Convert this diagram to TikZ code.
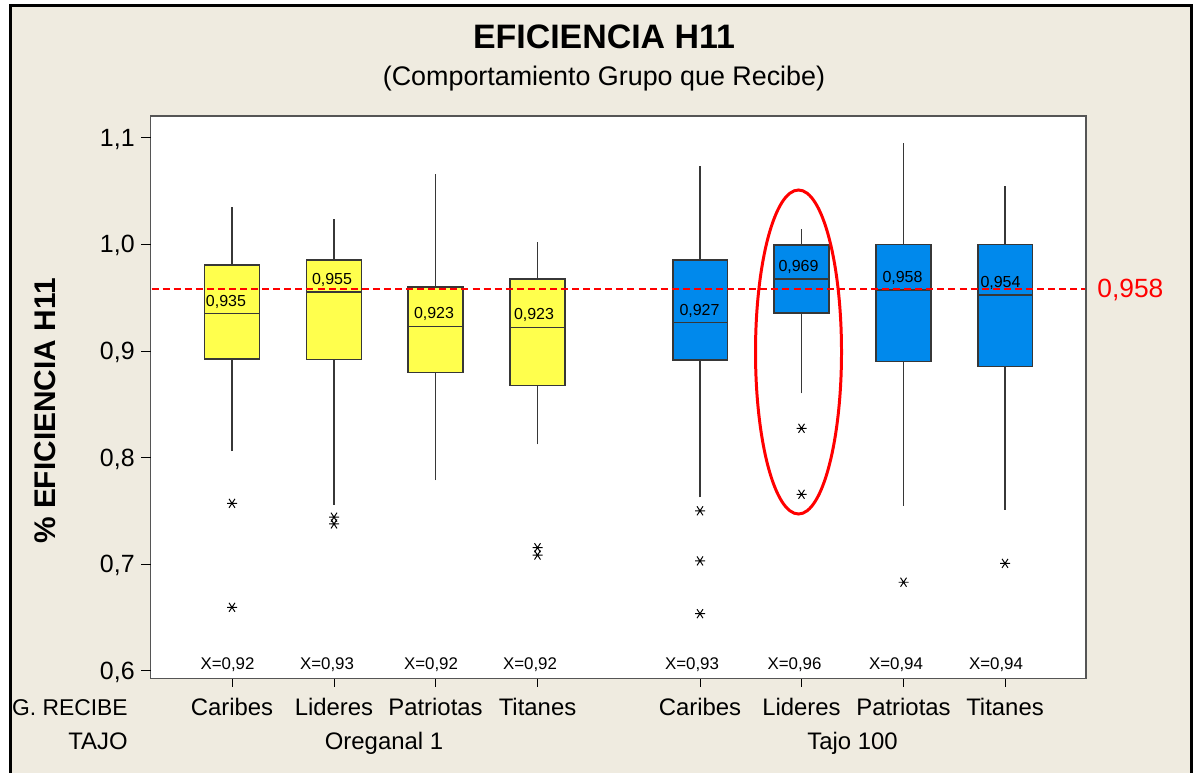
\documentclass[tikz,border=0pt]{standalone}
\usepackage{fontspec}
\setmainfont{Liberation Sans}
\definecolor{fondo}{RGB}{239,235,224}
\definecolor{amarillo}{RGB}{255,255,77}
\definecolor{azul}{RGB}{0,137,236}
\definecolor{borde}{RGB}{55,55,55}
\definecolor{rojo}{RGB}{255,0,0}
\tikzset{
  ycaja/.style={draw=borde, line width=0.9pt, fill=amarillo},
  acaja/.style={draw=borde, line width=0.9pt, fill=azul},
  mline/.style={draw=borde, line width=0.9pt},
  bigote/.style={draw=borde, line width=0.8pt},
  refline/.style={draw=rojo, dash pattern=on 4pt off 2.3pt, line width=0.8pt},
  media/.style={font=\fontsize{9.1}{11}\selectfont, anchor=base, inner sep=0pt},
  xbarra/.style={font=\fontsize{9.6}{11}\selectfont, anchor=base, inner sep=0pt},
  grupo/.style={font=\fontsize{13.6}{16}\selectfont, anchor=base, inner sep=0pt},
  eje/.style={font=\fontsize{14.2}{16}\selectfont, anchor=base east, inner sep=0pt},
  pics/atipico/.style={code={\draw[line width=0.55pt] (-5,0) -- (5,0) (-3,-4.5) -- (3,4.5) (-3,4.5) -- (3,-4.5);}}
}
\begin{document}
\begin{tikzpicture}[x=0.02cm, y=-0.02cm, declare function={py(\v)=137.7+(1.1-\v)*1066;}]
    \useasboundingbox (0,0) rectangle (1195,773);
    \fill[fondo] (10.5,5.5) rectangle (1191.5,773);
    \draw[line width=1.7pt] (10.5,780) -- (10.5,5.5) -- (1191.5,5.5) -- (1191.5,780);

    \path (604,37) node[font=\bfseries\fontsize{19.3}{22}\selectfont] (titulo) {EFICIENCIA H11};
    \path (604,86) node[anchor=base, inner sep=0pt, font=\fontsize{15.3}{18}\selectfont] (subtitulo) {(Comportamiento Grupo que Recibe)};
    \path (45.5,411) node[rotate=90, font=\bfseries\fontsize{17}{20}\selectfont] (ylab) {\% EFICIENCIA H11};

    \filldraw[fill=white, draw=borde!85, line width=1.1pt] (150.5,116) rectangle (1086,678.5);

    \draw (141,{py(1.1)}) -- (150.5,{py(1.1)});
    \path (135,{py(1.1)+8.5}) node[eje] (t11) {1,1};
    \draw (141,{py(1.0)}) -- (150.5,{py(1.0)});
    \path (135,{py(1.0)+8.5}) node[eje] (t10) {1,0};
    \draw (141,{py(0.9)}) -- (150.5,{py(0.9)});
    \path (135,{py(0.9)+8.5}) node[eje] (t09) {0,9};
    \draw (141,{py(0.8)}) -- (150.5,{py(0.8)});
    \path (135,{py(0.8)+8.5}) node[eje] (t08) {0,8};
    \draw (141,{py(0.7)}) -- (150.5,{py(0.7)});
    \path (135,{py(0.7)+8.5}) node[eje] (t07) {0,7};
    \draw (141,{py(0.6)}) -- (150.5,{py(0.6)});
    \path (135,{py(0.6)+8.5}) node[eje] (t06) {0,6};

    \coordinate (refA) at (151.5,{py(0.958)});
    \coordinate (refB) at (1085,{py(0.958)});
    \path (1097,{py(0.958)+8}) node[anchor=base west, inner sep=0pt, text=rojo, font=\fontsize{15}{18}\selectfont] (ref) {0,958};

    \draw[bigote] (232,{py(0.806)}) -- (232,{py(1.0353)});
    \draw[ycaja] (204.7,{py(0.8924)}) rectangle (259.3,{py(0.9806)});
    \draw[mline] (204.7,{py(0.935)}) -- (259.3,{py(0.935)});
    \path (226,{py(0.935)-7.5}) node[media] (m1) {0,935};
    \pic at (232,{py(0.757)}) {atipico};
    \pic at (232,{py(0.6595)}) {atipico};

    \draw[bigote] (334,{py(0.7555)}) -- (334,{py(1.0234)});
    \draw[ycaja] (306.7,{py(0.892)}) rectangle (361.3,{py(0.9853)});
    \draw[mline] (306.7,{py(0.955)}) -- (361.3,{py(0.955)});
    \path (332,{py(0.955)-7.5}) node[media] (m2) {0,955};
    \pic at (334,{py(0.744)}) {atipico};
    \pic at (334,{py(0.7377)}) {atipico};

    \draw[bigote] (435.5,{py(0.7789)}) -- (435.5,{py(1.0657)});
    \draw[ycaja] (408.2,{py(0.8796)}) rectangle (462.8,{py(0.9597)});
    \draw[mline] (408.2,{py(0.923)}) -- (462.8,{py(0.923)});
    \path (434,{py(0.923)-7.5}) node[media] (m3) {0,923};

    \draw[bigote] (537.5,{py(0.8124)}) -- (537.5,{py(1.0022)});
    \draw[ycaja] (510.2,{py(0.8677)}) rectangle (564.8,{py(0.9677)});
    \draw[mline] (510.2,{py(0.922)}) -- (564.8,{py(0.922)});
    \path (534,{py(0.922)-7.5}) node[media] (m4) {0,923};
    \pic at (537.5,{py(0.7154)}) {atipico};
    \pic at (537.5,{py(0.7085)}) {atipico};

    \draw[bigote] (700,{py(0.7627)}) -- (700,{py(1.0738)});
    \draw[acaja] (672.7,{py(0.8915)}) rectangle (727.3,{py(0.9853)});
    \draw[mline] (672.7,{py(0.9265)}) -- (727.3,{py(0.9265)});
    \path (699.5,{py(0.9265)-7.5}) node[media] (m5) {0,927};
    \pic at (700,{py(0.75)}) {atipico};
    \pic at (700,{py(0.703)}) {atipico};
    \pic at (700,{py(0.6535)}) {atipico};

    \draw[bigote] (801.5,{py(0.8602)}) -- (801.5,{py(1.014)});
    \draw[acaja] (774.2,{py(0.9358)}) rectangle (828.8,{py(0.9993)});
    \draw[mline] (774.2,{py(0.9675)}) -- (828.8,{py(0.9675)});
    \path (798.5,{py(0.9675)-7.5}) node[media] (m6) {0,969};
    \pic at (801.5,{py(0.8274)}) {atipico};
    \pic at (801.5,{py(0.7655)}) {atipico};

    \draw[bigote] (903.5,{py(0.7546)}) -- (903.5,{py(1.0947)});
    \draw[acaja] (876.2,{py(0.8899)}) rectangle (930.8,{py(1.0)});
    \draw[mline] (876.2,{py(0.9571)}) -- (930.8,{py(0.9571)});
    \path (902.5,{py(0.9571)-7.5}) node[media] (m7) {0,958};
    \pic at (903.5,{py(0.683)}) {atipico};

    \draw[bigote] (1005,{py(0.7508)}) -- (1005,{py(1.055)});
    \draw[acaja] (977.7,{py(0.8852)}) rectangle (1032.3,{py(1.0)});
    \draw[mline] (977.7,{py(0.9524)}) -- (1032.3,{py(0.9524)});
    \path (1000.5,{py(0.9524)-7.5}) node[media] (m8) {0,954};
    \pic at (1005,{py(0.7007)}) {atipico};

    \draw[refline] (refA) -- (refB);
    \draw[draw=rojo, line width=1.7pt] (798.5,352) ellipse [x radius=43, y radius=162];

    \path (227.5,669) node[xbarra] (x1) {X=0,92};
    \path (327,669) node[xbarra] (x2) {X=0,93};
    \path (431,669) node[xbarra] (x3) {X=0,92};
    \path (530,669) node[xbarra] (x4) {X=0,92};
    \path (692,669) node[xbarra] (x5) {X=0,93};
    \path (794.5,669) node[xbarra] (x6) {X=0,96};
    \path (896,669) node[xbarra] (x7) {X=0,94};
    \path (996,669) node[xbarra] (x8) {X=0,94};

    \draw (232,678.5) -- (232,687);
    \draw (334,678.5) -- (334,687);
    \draw (435.5,678.5) -- (435.5,687);
    \draw (537.5,678.5) -- (537.5,687);
    \draw (700,678.5) -- (700,687);
    \draw (801.5,678.5) -- (801.5,687);
    \draw (903.5,678.5) -- (903.5,687);
    \draw (1005,678.5) -- (1005,687);

    \path (232,715) node[grupo] (c1) {Caribes};
    \path (334,715) node[grupo] (c2) {Lideres};
    \path (435.5,715) node[grupo] (c3) {Patriotas};
    \path (537.5,715) node[grupo] (c4) {Titanes};
    \path (700,715) node[grupo] (c5) {Caribes};
    \path (801.5,715) node[grupo] (c6) {Lideres};
    \path (903.5,715) node[grupo] (c7) {Patriotas};
    \path (1005,715) node[grupo] (c8) {Titanes};
    \path (384,749) node[grupo] (g1) {Oreganal 1};
    \path (852.5,749) node[grupo] (g2) {Tajo 100};
    \path (128,715) node[grupo, anchor=base east, font=\fontsize{13}{16}\selectfont] (grecibe) {G. RECIBE};
    \path (128,749) node[grupo, anchor=base east] (tajo) {TAJO};
  \end{tikzpicture}
\end{document}
